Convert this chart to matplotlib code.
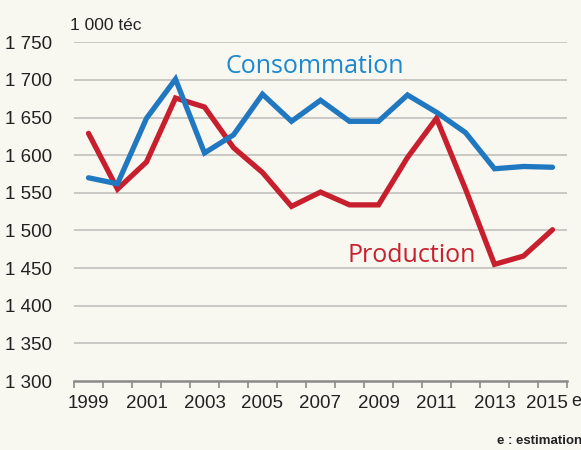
import matplotlib
matplotlib.use("Agg")
import matplotlib.pyplot as plt
from matplotlib.transforms import ScaledTranslation

years = list(range(1999, 2016))
consommation = [1570, 1562, 1649, 1701, 1603, 1627, 1681, 1645, 1673, 1645, 1645, 1680, 1657, 1630, 1582, 1585, 1584]
production = [1629, 1555, 1591, 1676, 1664, 1610, 1577, 1532, 1551, 1534, 1534, 1597, 1649, 1555, 1455, 1466, 1501]
yticks = [1300, 1350, 1400, 1450, 1500, 1550, 1600, 1650, 1700, 1750]

narrow = "Liberation Sans"
label_font = "Open Sans"

bg = "#f8f7f0"
blue = "#1f78c0"
red = "#c71f2d"
txt = "#222222"

fig = plt.figure(figsize=(5.81, 4.5), dpi=100, facecolor=bg)
ax = fig.add_axes([74 / 581, 1 - 381 / 450, (567 - 74) / 581, (381 - 42.3) / 450])
ax.set_facecolor(bg)

x = list(range(len(years)))
for v in yticks[1:]:
    ax.axhline(v, color="#c9c8c4", lw=1.4, zorder=1)
ax.plot(x, consommation, color=blue, lw=3.8, zorder=3, solid_capstyle="round", solid_joinstyle="miter")
ax.plot(x, production, color=red, lw=3.8, zorder=2, solid_capstyle="round", solid_joinstyle="miter")

ax.set_xlim(-0.5, len(years) - 0.5)
ax.set_ylim(1300, 1750)
for s in ["top", "right", "left"]:
    ax.spines[s].set_visible(False)
ax.spines["bottom"].set_color("#8a8a88")
ax.spines["bottom"].set_linewidth(1.8)

# ticks on category boundaries, labels every other year
ax.set_xticks([i - 0.5 for i in range(len(years) + 1)])
ax.set_xticklabels([])
ax.tick_params(axis="x", length=5, width=1.2, color="#8a8a88", direction="out")
ax.set_xticks(x[::2], minor=True)
labels = ax.set_xticklabels([str(y) for y in years[::2]], minor=True, fontfamily=narrow, fontsize=13.5, color=txt)
ax.tick_params(axis="x", which="minor", length=0, pad=10)
labels[-1].set_transform(labels[-1].get_transform() + ScaledTranslation(-6 / 100, 0, fig.dpi_scale_trans))

ax.set_yticks(yticks)
ax.set_yticklabels([f"{v // 1000} {v % 1000:03d}" for v in yticks], fontfamily=narrow, fontsize=13.5, color=txt)
ax.tick_params(axis="y", length=0, pad=16)

fig.text(70 / 581, 1 - 25 / 450, "1 000 téc", fontfamily=narrow, fontsize=12.5, color=txt, va="center")
fig.text(576 / 581, 1 - 401 / 450, "e", fontfamily=narrow, fontsize=13, color=txt, va="center", ha="center")
fig.text(582 / 581, 1 - 441 / 450, "e : estimation", fontfamily=narrow, fontsize=9.5, fontweight="bold", color=txt, va="center", ha="right")

ax.text(7.8, 1709, "Consommation", color="#1b88cf", fontfamily=label_font, fontsize=18, ha="center", va="baseline")
ax.text(11.15, 1458, "Production", color="#c8202f", fontfamily=label_font, fontsize=18, ha="center", va="baseline")

fig.savefig("out.png", dpi=100, facecolor=bg)
